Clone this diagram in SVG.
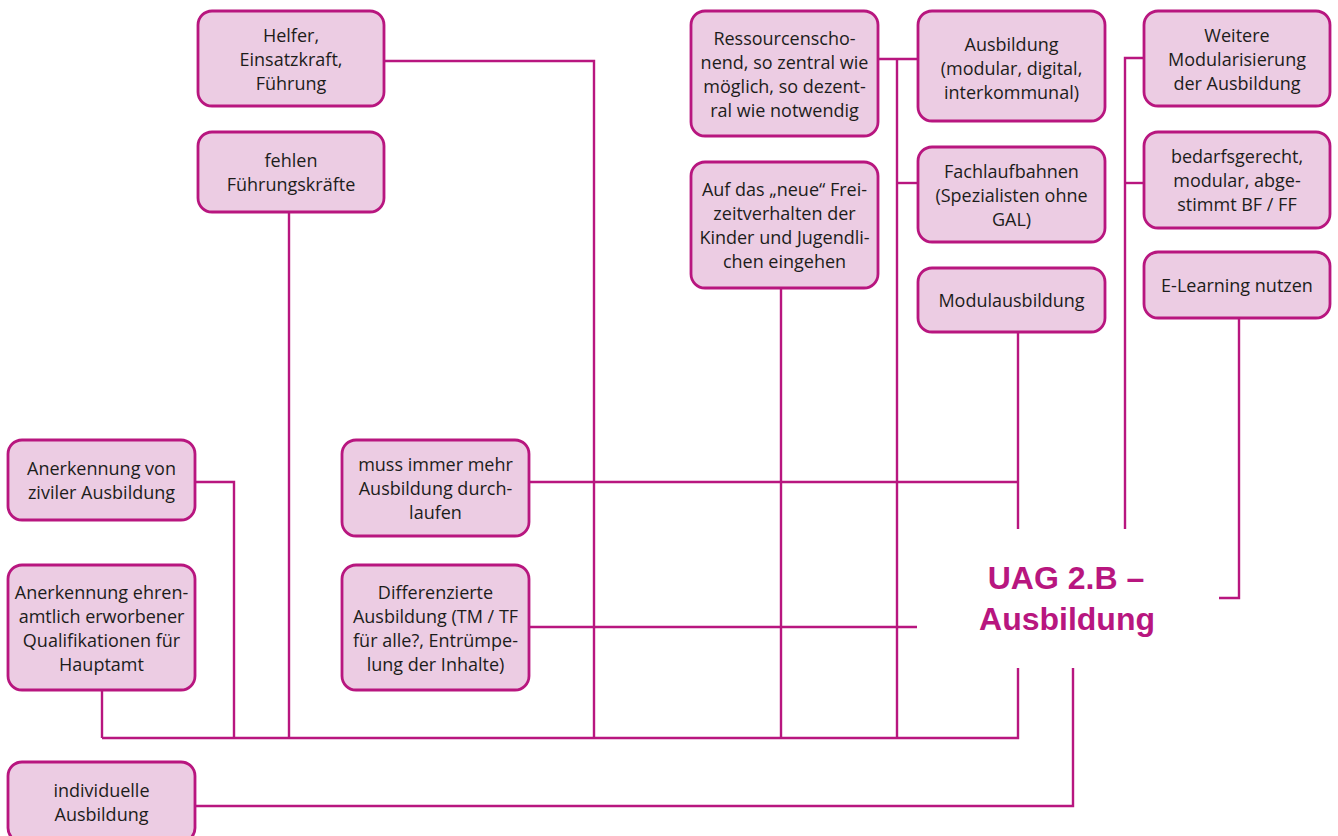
<svg xmlns="http://www.w3.org/2000/svg" width="1338" height="836" viewBox="0 0 1338 836">
<style>
.box{fill:#eccce3;stroke:#b8167f;stroke-width:2.8}
.t{font-family:"Open Sans","Liberation Sans",sans-serif;font-size:18px;fill:#1d1d1b;text-anchor:middle}
.c{fill:none;stroke:#b8167f;stroke-width:2.4}
.title{font-family:"Liberation Sans",Arial,sans-serif;font-size:32px;font-weight:bold;fill:#b8167f;text-anchor:middle}
</style>
<rect width="1338" height="836" fill="#ffffff"/>
<g id="connectors">
<path class="c" d="M384,61 H594 V738"/>
<path class="c" d="M289,212 V738"/>
<path class="c" d="M878,59 H918"/>
<path class="c" d="M897,59 V738"/>
<path class="c" d="M897,183 H918"/>
<path class="c" d="M781,288 V738"/>
<path class="c" d="M1018,332 V529"/>
<path class="c" d="M529,482 H1018"/>
<path class="c" d="M1144,58 H1125 V529"/>
<path class="c" d="M1125,183 H1144"/>
<path class="c" d="M1239,318 V598 H1219"/>
<path class="c" d="M195,482 H234 V738"/>
<path class="c" d="M102,690 V738"/>
<path class="c" d="M102,738 H1018 V668"/>
<path class="c" d="M529,627 H917"/>
<path class="c" d="M195,806 H1073 V668"/>
</g>
<g id="n-helfer"><rect class="box" x="198" y="11" width="186" height="95" rx="14"/>
<text class="t" x="291" y="42">Helfer,</text><text class="t" x="291" y="66">Einsatzkraft,</text><text class="t" x="291" y="90">Führung</text></g>
<g id="n-fehlen"><rect class="box" x="198" y="132" width="186" height="80" rx="14"/>
<text class="t" x="291" y="167">fehlen</text><text class="t" x="291" y="191">Führungskräfte</text></g>
<g id="n-ressourcen"><rect class="box" x="691" y="11" width="187" height="125" rx="14"/>
<text class="t" x="784.5" y="45">Ressourcenscho-</text><text class="t" x="784.5" y="69">nend, so zentral wie</text><text class="t" x="784.5" y="93">möglich, so dezent-</text><text class="t" x="784.5" y="117">ral wie notwendig</text></g>
<g id="n-aufdas"><rect class="box" x="691" y="162" width="187" height="126" rx="14"/>
<text class="t" x="784.5" y="196">Auf das „neue“ Frei-</text><text class="t" x="784.5" y="220">zeitverhalten der</text><text class="t" x="784.5" y="244">Kinder und Jugendli-</text><text class="t" x="784.5" y="268">chen eingehen</text></g>
<g id="n-ausbildung"><rect class="box" x="918" y="11" width="187" height="110" rx="14"/>
<text class="t" x="1011.5" y="51">Ausbildung</text><text class="t" x="1011.5" y="75">(modular, digital,</text><text class="t" x="1011.5" y="99">interkommunal)</text></g>
<g id="n-fachlauf"><rect class="box" x="918" y="147" width="187" height="95" rx="14"/>
<text class="t" x="1011.5" y="178">Fachlaufbahnen</text><text class="t" x="1011.5" y="202">(Spezialisten ohne</text><text class="t" x="1011.5" y="226">GAL)</text></g>
<g id="n-modul"><rect class="box" x="918" y="268" width="187" height="64" rx="14"/>
<text class="t" x="1011.5" y="307">Modulausbildung</text></g>
<g id="n-weitere"><rect class="box" x="1144" y="11" width="186" height="95" rx="14"/>
<text class="t" x="1237" y="42">Weitere</text><text class="t" x="1237" y="66">Modularisierung</text><text class="t" x="1237" y="90">der Ausbildung</text></g>
<g id="n-bedarf"><rect class="box" x="1144" y="132" width="186" height="96" rx="14"/>
<text class="t" x="1237" y="163">bedarfsgerecht,</text><text class="t" x="1237" y="187">modular, abge-</text><text class="t" x="1237" y="211">stimmt BF / FF</text></g>
<g id="n-elearn"><rect class="box" x="1144" y="252" width="186" height="66" rx="14"/>
<text class="t" x="1237" y="292">E-Learning nutzen</text></g>
<g id="n-zivil"><rect class="box" x="8" y="440" width="187" height="80" rx="14"/>
<text class="t" x="101.5" y="475">Anerkennung von</text><text class="t" x="101.5" y="499">ziviler Ausbildung</text></g>
<g id="n-ehren"><rect class="box" x="8" y="565" width="187" height="125" rx="14"/>
<text class="t" x="101.5" y="599">Anerkennung ehren-</text><text class="t" x="101.5" y="623">amtlich erworbener</text><text class="t" x="101.5" y="647">Qualifikationen für</text><text class="t" x="101.5" y="671">Hauptamt</text></g>
<g id="n-muss"><rect class="box" x="342" y="440" width="187" height="96" rx="14"/>
<text class="t" x="435.5" y="471">muss immer mehr</text><text class="t" x="435.5" y="495">Ausbildung durch-</text><text class="t" x="435.5" y="519">laufen</text></g>
<g id="n-differ"><rect class="box" x="342" y="565" width="187" height="125" rx="14"/>
<text class="t" x="435.5" y="599">Differenzierte</text><text class="t" x="435.5" y="623">Ausbildung (TM / TF</text><text class="t" x="435.5" y="647">für alle?, Entrümpe-</text><text class="t" x="435.5" y="671">lung der Inhalte)</text></g>
<g id="n-indiv"><rect class="box" x="8" y="762" width="187" height="80" rx="14"/>
<text class="t" x="101.5" y="797">individuelle</text><text class="t" x="101.5" y="821">Ausbildung</text></g>
<g id="n-title">
<text class="title" x="1066" y="589">UAG 2.B –</text><text class="title" x="1067" y="630">Ausbildung</text></g>
</svg>
